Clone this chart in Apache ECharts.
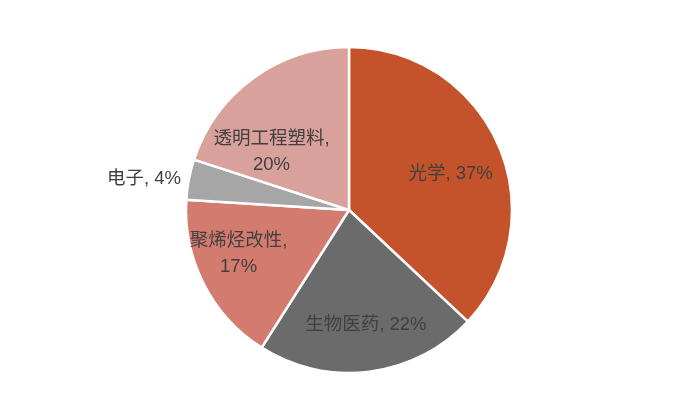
<!DOCTYPE html>
<html>
<head>
<meta charset="utf-8">
<script src="https://cdn.jsdelivr.net/npm/echarts@6/dist/echarts.min.js"></script>
<style>
  html, body { margin: 0; padding: 0; background: #fff; }
  #main { width: 700px; height: 420px; }
</style>
</head>
<body>
<div id="main"></div>
<script>
  // 分类与占比
  var categories = ['光学', '生物医药', '聚烯烃改性', '电子', '透明工程塑料'];
  var shares = [37, 22, 17, 4, 20];
  var colors = ['#C4522B', '#6B6B6B', '#D37B6F', '#A6A6A6', '#D9A19B'];
  // 标签文字(换行方式按原图)
  var labelTexts = ['光学, 37%', '生物医药, 22%', '聚烯烃改性,\n17%', '电子, 4%', '透明工程塑料,\n20%'];
  // 标签微调
  var labelShift = [[-7, 11], [2, -2], [-5, -10], [0, 0], [-8, 38]];

  var chart = echarts.init(document.getElementById('main'));
  var cx = 349, cy = 210, R = 163;

  var data = categories.map(function (name, i) {
    var item = {
      name: name,
      value: shares[i],
      itemStyle: { color: colors[i] },
      label: { formatter: labelTexts[i] }
    };
    if (name === '电子') {
      item.label.position = 'outside';
      item.labelLine = { show: false, length: 3, length2: 0 };
    }
    return item;
  });

  var option = {
    animation: false,
    series: [{
      type: 'pie',
      center: [cx, cy],
      radius: [0, R],
      startAngle: 90,
      clockwise: true,
      itemStyle: { borderColor: '#fff', borderWidth: 2.5 },
      label: {
        show: true,
        position: 'inside',
        color: '#404040',
        fontSize: 18.5,
        lineHeight: 26,
        fontFamily: 'Arial, "Noto Sans CJK SC", sans-serif',
        align: 'center'
      },
      labelLayout: function (p) {
        var i = p.dataIndex;
        if (categories[i] === '电子') return {};
        // 把内部标签从半径一半处往外推到约0.7倍半径
        var lx = p.labelRect.x + p.labelRect.width / 2;
        var ly = p.labelRect.y + p.labelRect.height / 2;
        var k = 0.4;
        return {
          dx: (lx - cx) * k + labelShift[i][0],
          dy: (ly - cy) * k + labelShift[i][1]
        };
      },
      data: data
    }]
  };

  chart.setOption(option);
</script>
</body>
</html>
